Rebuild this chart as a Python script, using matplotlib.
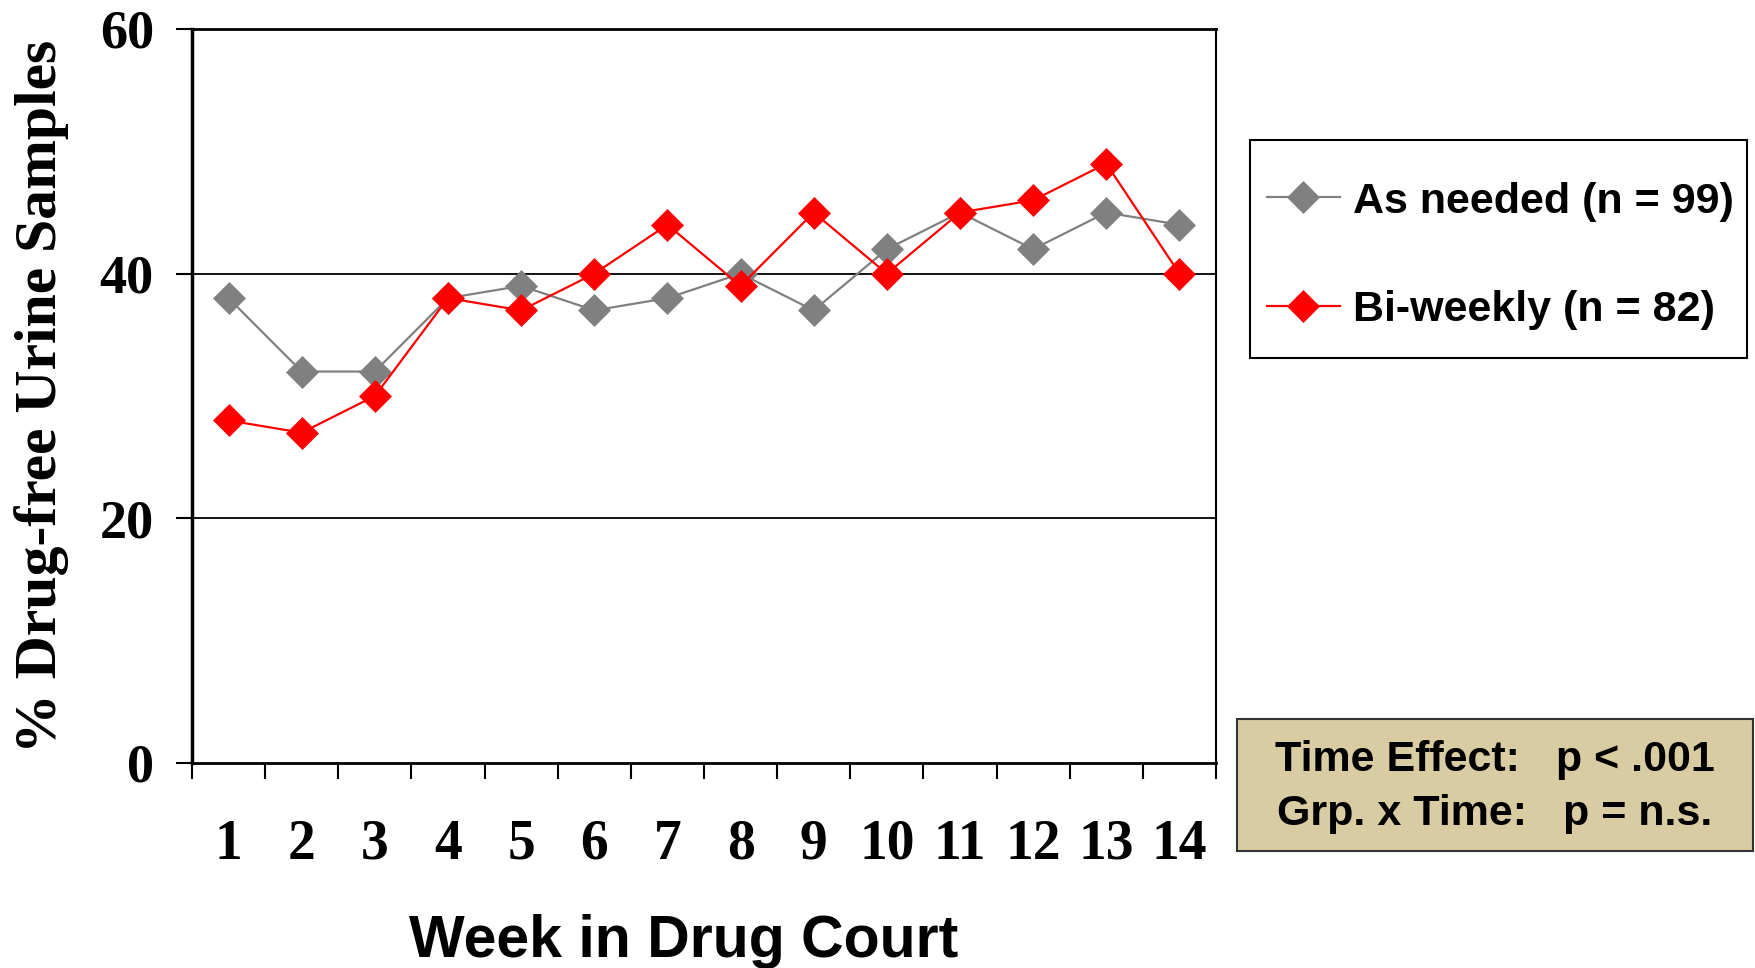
import matplotlib
matplotlib.use("Agg")
import matplotlib.pyplot as plt
import numpy as np
from matplotlib.patches import Rectangle

weeks = list(range(1, 15))
as_needed = [38, 32, 32, 38, 39, 37, 38, 40, 37, 42, 45, 42, 45, 44]
bi_weekly = [28, 27, 30, 38, 37, 40, 44, 39, 45, 40, 45, 46, 49, 40]
series_labels = ['As needed (n = 99)', 'Bi-weekly (n = 82)']
y_ticks = [0, 20, 40, 60]
stats_lines = ['Time Effect:   p < .001', 'Grp. x Time:   p = n.s.']

plt.rcParams['font.family'] = 'Liberation Serif'
plt.rcParams['font.weight'] = 'bold'

W, H = 1755, 968
fig = plt.figure(figsize=(W / 100, H / 100), dpi=100)
ax = fig.add_axes([192 / W, 1 - 763 / H, (1216 - 192) / W, (763 - 29) / H])

# grid lines at 20 and 40
for yv in [20, 40]:
    ax.axhline(yv, color='black', lw=1.3, zorder=1)

ax.plot(weeks, as_needed, color='#808080', lw=1.6, marker='D', ms=16,
        mec='#808080', mew=0.5, label=series_labels[0], zorder=3)
ax.plot(weeks, bi_weekly, color='#FF0000', lw=1.6, marker='D', ms=16,
        mec='#FF0000', mew=0.5, label=series_labels[1], zorder=4)

ax.set_xlim(0.5, 14.5)
ax.set_ylim(0, 60)

# tick marks between weeks, labels under each week
ax.set_xticks(np.arange(0.5, 15, 1))
ax.set_xticklabels([])
ax.set_xticks(weeks, minor=True)
ax.set_xticklabels([str(w) for w in weeks], minor=True)
ax.tick_params(axis='x', which='major', direction='out', length=11.5, width=1.5)
ax.tick_params(axis='x', which='minor', length=0, pad=40, labelsize=40)

ax.set_yticks(y_ticks)
ax.set_yticklabels([str(v) for v in y_ticks])
ax.tick_params(axis='y', direction='out', length=11.5, width=1.5, pad=16, labelsize=39)

ax.spines['left'].set_linewidth(2.5)
ax.spines['bottom'].set_linewidth(2.0)
ax.spines['top'].set_linewidth(2.0)
ax.spines['right'].set_linewidth(1.5)

fig.text(42 / W, 1 - 396 / H, '% Drug-free Urine Samples', rotation=90,
         ha='center', va='center', fontsize=43, fontweight='bold')
fig.text(684 / W, 1 - 957 / H, 'Week in Drug Court', ha='center', va='baseline',
         fontsize=42.5, fontweight='bold', family='Liberation Sans')

# legend
fig.patches.append(Rectangle((1250 / W, 1 - 358 / H), 497 / W, 218 / H,
                             transform=fig.transFigure, facecolor='white',
                             edgecolor='black', lw=1.5, zorder=-1))
leg = fig.legend(loc='center', bbox_to_anchor=(1500 / W, 1 - 256 / H),
                 frameon=False,
                 prop={'family': 'Liberation Sans', 'weight': 'bold', 'size': 31},
                 handlelength=1.7, handletextpad=0.3, labelspacing=1.6,
                 markerscale=1.0)
leg.set_zorder(6)

# stats box
fig.patches.append(Rectangle((1237 / W, 1 - 851 / H), 516 / W, 132 / H,
                             transform=fig.transFigure, facecolor='#D9CBA2',
                             edgecolor='#333333', lw=1.5, zorder=-1))
fig.text(1495 / W, 1 - 760 / H, stats_lines[0], ha='center', va='center',
         fontsize=31, fontweight='bold', family='Liberation Sans', zorder=6)
fig.text(1495 / W, 1 - 814 / H, stats_lines[1], ha='center', va='center',
         fontsize=31, fontweight='bold', family='Liberation Sans', zorder=6)

fig.savefig('out.png', dpi=100)
